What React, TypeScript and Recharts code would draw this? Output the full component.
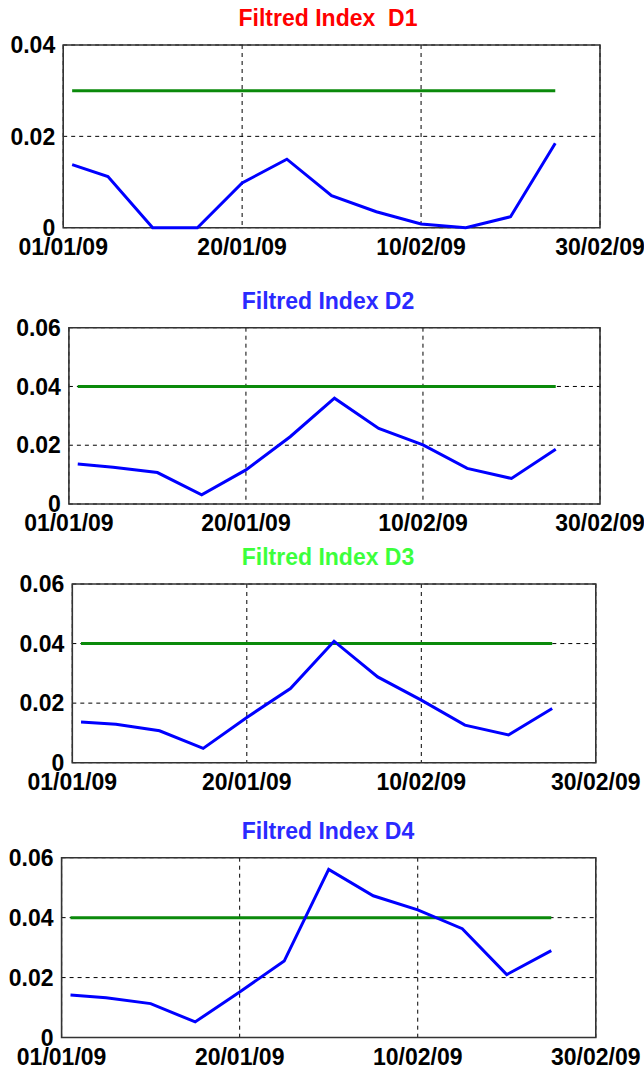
import { LineChart, Line, XAxis, YAxis, CartesianGrid, ReferenceArea } from "recharts";

// sample days (0 = 01/01/09), shared by all four panels
const days = [1, 5, 10, 15, 20, 25, 30, 35, 40, 45, 50, 55];

const d1 = [0.0138, 0.0112, 0, 0, 0.0098, 0.015, 0.007, 0.0035, 0.0008, 0, 0.0024, 0.0185];
const d2 = [0.0136, 0.0125, 0.0107, 0.0031, 0.0116, 0.0229, 0.036, 0.0257, 0.0201, 0.0121, 0.0087, 0.0186];
const d3 = [0.0137, 0.0129, 0.0107, 0.0048, 0.0152, 0.0249, 0.0408, 0.0288, 0.021, 0.0126, 0.0093, 0.0182];
const d4 = [0.0142, 0.0133, 0.0113, 0.0052, 0.0152, 0.0255, 0.0561, 0.0473, 0.0426, 0.0363, 0.021, 0.029];

const limits = [0.03, 0.04, 0.04, 0.04];
const titles = ["Filtred Index  D1", "Filtred Index D2", "Filtred Index D3", "Filtred Index D4"];
const titleColors = ["#ff0000", "#2a2aff", "#3cff3c", "#2a2aff"];

const xTicks = [0, 20, 40, 60];
const xLabels = ["01/01/09", "20/01/09", "10/02/09", "30/02/09"];
const yTicksD1 = [0, 0.02, 0.04];
const yTicks = [0, 0.02, 0.04, 0.06];

const series = [d1, d2, d3, d4];

// layout of each panel: chart top, plot top, plot bottom, plot left, plot right, title top
const layout = [
  { top: 0, plotTop: 45, plotBottom: 227.7, left: 63.2, right: 600, titleTop: 7 },
  { top: 270, plotTop: 327.7, plotBottom: 504, left: 68.9, right: 600, titleTop: 290 },
  { top: 530, plotTop: 584, plotBottom: 762.7, left: 72.3, right: 595.8, titleTop: 546 },
  { top: 800, plotTop: 857.7, plotBottom: 1037.5, left: 61.6, right: 595.8, titleTop: 820 },
];

const FONT = "'Liberation Sans', Arial, sans-serif";
const tickStyle = { fontSize: 23, fontWeight: 700, fill: "#000", fontFamily: FONT };

function Panel({ idx }: { idx: number }) {
  const l = layout[idx];
  const H = 270;
  const data = days.map((day, i) => ({ day, value: series[idx][i], limit: limits[idx] }));
  const ticks = idx === 0 ? yTicksD1 : yTicks;
  const yMax = ticks[ticks.length - 1];

  return (
    <>
      <div
        style={{
          position: "absolute",
          left: 178,
          top: l.titleTop,
          width: 300,
          textAlign: "center",
          fontFamily: FONT,
          fontWeight: 700,
          fontSize: 23,
          lineHeight: "23px",
          whiteSpace: "pre",
          color: titleColors[idx],
        }}
      >
        {titles[idx]}
      </div>
      <div style={{ position: "absolute", left: 0, top: l.top }}>
        <LineChart
          width={644}
          height={H}
          data={data}
          margin={{
            top: l.plotTop - l.top,
            left: 0,
            right: 644 - l.right,
            bottom: H - (l.plotBottom - l.top) - 30,
          }}
        >
          <CartesianGrid stroke="#000" strokeDasharray="4 4" strokeWidth={1} />
          <XAxis
            dataKey="day"
            type="number"
            domain={[0, 60]}
            ticks={xTicks}
            interval={0}
            tickFormatter={(v: number) => xLabels[xTicks.indexOf(v)]}
            tick={tickStyle}
            tickLine={false}
            tickSize={6}
            tickMargin={5}
            height={30}
            axisLine={false}
          />
          <YAxis
            type="number"
            domain={[0, yMax]}
            ticks={ticks}
            interval={0}
            tick={tickStyle}
            tickLine={false}
            width={l.left}
            axisLine={false}
          />
          {/* plot frame */}
          <ReferenceArea
            x1={0}
            x2={60}
            y1={0}
            y2={yMax}
            fill="none"
            fillOpacity={0}
            stroke="#333"
            strokeWidth={1.6}
          />
          <Line
            dataKey="limit"
            type="linear"
            stroke="#0b8a0b"
            strokeWidth={3}
            dot={false}
            isAnimationActive={false}
          />
          <Line
            dataKey="value"
            type="linear"
            stroke="#0000ff"
            strokeWidth={3}
            dot={false}
            isAnimationActive={false}
          />
        </LineChart>
      </div>
    </>
  );
}

export default function App() {
  return (
    <div
      style={{
        position: "absolute",
        left: 0,
        top: 0,
        width: 644,
        height: 1071,
        background: "#fff",
        overflow: "hidden",
      }}
    >
      {[0, 1, 2, 3].map((i) => (
        <Panel key={i} idx={i} />
      ))}
    </div>
  );
}
